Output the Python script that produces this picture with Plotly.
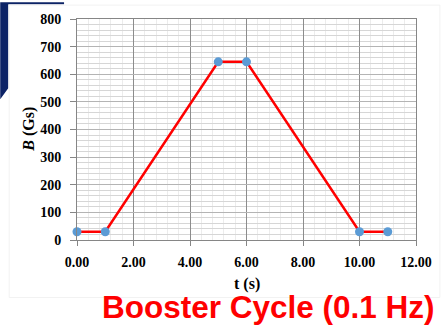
import plotly.graph_objects as go

# Magnet cycle: time (s) vs field (Gs)
t_s = [0, 1, 5, 6, 10, 11]
b_gs = [30, 30, 645, 645, 30, 30]

x_ticks = [0, 2, 4, 6, 8, 10, 12]
y_ticks = [0, 100, 200, 300, 400, 500, 600, 700, 800]

W, H = 444, 332
L, R, T, B = 77, 27, 17, 92
PW, PH = W - L - R, H - T - B


def px(x, y):
    """Pixel position on the page -> paper coordinates."""
    return (x - L) / PW, (H - B - y) / PH


fig = go.Figure()
fig.add_trace(go.Scatter(
    x=t_s, y=b_gs, mode="lines+markers",
    line=dict(color="#ff0000", width=2.5),
    marker=dict(color="#5b9bd5", size=9),
    showlegend=False, cliponaxis=False,
))

tick_font = dict(family="Liberation Serif", size=14, color="black", weight="bold")

fig.update_xaxes(
    range=[0, 12], tickvals=x_ticks, ticktext=[f"{v:.2f}" for v in x_ticks],
    showgrid=True, gridcolor="#8c8c8c", gridwidth=1,
    minor=dict(dtick=0.4, tick0=0, showgrid=True, gridcolor="#ececec", gridwidth=1),
    showline=True, linecolor="#868686", linewidth=1, mirror=True,
    ticks="outside", ticklen=5, tickcolor="#868686",
    tickfont=tick_font, zeroline=False, ticklabelstandoff=4,
)
fig.update_yaxes(
    range=[0, 800], tickvals=y_ticks,
    showgrid=True, gridcolor="#b4b4b4", gridwidth=1,
    minor=dict(dtick=20, tick0=0, showgrid=True, gridcolor="#d6d6d6", gridwidth=1),
    showline=True, linecolor="#868686", linewidth=1, mirror=True,
    ticks="outside", ticklen=6, tickcolor="#868686",
    tickfont=tick_font, zeroline=False, ticklabelstandoff=6,
)

# navy slide corner in the top-left
corner = [(0, 0), (64, 0), (64, 2), (8, 2), (8, 87), (0, 98)]
path = "M " + " L ".join(f"{px(x, y)[0]:.4f},{px(x, y)[1]:.4f}" for x, y in corner) + " Z"
shapes = [
    dict(type="path", xref="paper", yref="paper", path=path,
         fillcolor="#0c2366", line=dict(width=0), layer="below"),
]
x0, y0 = px(9, 3)
x1, y1 = px(441, 298)
shapes.append(dict(type="rect", xref="paper", yref="paper", x0=x0, y0=y1, x1=x1, y1=y0,
                   line=dict(color="#f2f2f2", width=1), fillcolor="rgba(0,0,0,0)",
                   layer="below"))

ax_x, ax_y = px(28, 128.5)
tx_x, tx_y = px(247, 284)
bc_x, bc_y = px(269.5, 308)
annotations = [
    dict(text="<b><i>B</i> (Gs)</b>", xref="paper", yref="paper", x=ax_x, y=ax_y,
         textangle=-90, showarrow=False, xanchor="center", yanchor="middle",
         font=dict(family="Liberation Serif", size=16, color="black")),
    dict(text="<b>t (s)</b>", xref="paper", yref="paper", x=tx_x, y=tx_y,
         showarrow=False, xanchor="center", yanchor="middle",
         font=dict(family="Liberation Serif", size=16, color="black")),
    dict(text="<b>Booster Cycle (0.1 Hz)</b>", xref="paper", yref="paper", x=bc_x, y=bc_y,
         showarrow=False, xanchor="center", yanchor="middle",
         font=dict(family="Liberation Sans", size=31.5, color="#ff0000")),
]

fig.update_layout(
    width=W, height=H, margin=dict(l=L, r=R, t=T, b=B, pad=0),
    paper_bgcolor="white", plot_bgcolor="white",
    shapes=shapes, annotations=annotations,
)

fig.write_html("out.html")
